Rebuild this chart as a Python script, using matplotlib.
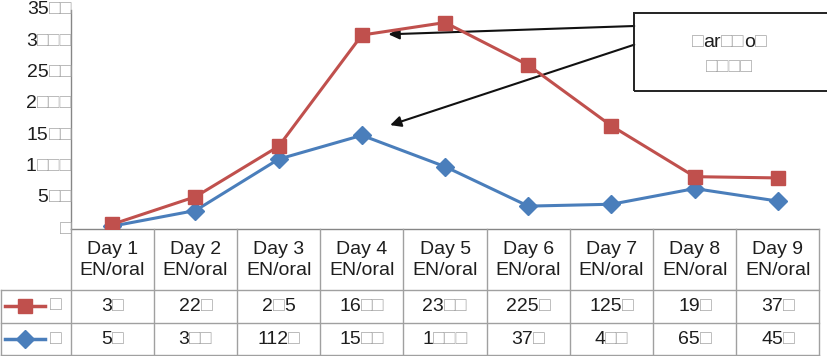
import numpy as np
import matplotlib.pyplot as plt
from matplotlib.offsetbox import TextArea, HPacker, AnnotationBbox
from matplotlib.patches import Rectangle

days = ['Day 1', 'Day 2', 'Day 3', 'Day 4', 'Day 5', 'Day 6', 'Day 7', 'Day 8', 'Day 9']
route = 'EN/oral'
red_vals = [30, 220, 205, 1600, 2300, 2250, 1250, 190, 370]
blue_vals = [50, 300, 1120, 1500, 1000, 370, 400, 650, 450]
series_names = ['□', '□']
y_ticks = [0, 500, 1000, 1500, 2000, 2500, 3000, 3500]
note_lines = ['□ar□□o□', '□□□□']

RED = '#C0504D'
BLUE = '#4A7EBB'
TXT = '#1e1e1e'
BOXC = '#a8a8a8'
GRID = '#a0a0a0'
FS = 14
W, H = 828, 356


def mixed(ax, s, xy, xycoords, align=(0.5, 0.5), dx=0):
    # text where the missing-glyph boxes are drawn lighter than the rest
    parts = []
    for ch in s:
        col = BOXC if ch == '□' else TXT
        if parts and parts[-1][1] == col:
            parts[-1][0] += ch
        else:
            parts.append([ch, col])
    kids = [TextArea(t, textprops=dict(color=c, fontsize=FS, family='Liberation Sans')) for t, c in parts]
    pk = HPacker(children=kids, align='baseline', pad=0, sep=0)
    ab = AnnotationBbox(pk, xy, xycoords=xycoords, xybox=(dx, 0), boxcoords='offset points',
                        frameon=False, box_alignment=align, pad=0, annotation_clip=False)
    ax.add_artist(ab)


fig = plt.figure(figsize=(W / 100, H / 100), dpi=100)
plt.rcParams['font.family'] = ['Liberation Sans', 'DejaVu Sans']

x0, x1 = 70.7, 819.5          # plot / table column span in px
ytop, ybase = 10, 229.3
ax = fig.add_axes([x0 / W, (H - ybase) / H, (x1 - x0) / W, (ybase - ytop) / H])
x = np.arange(len(days))
stack_red = np.array(blue_vals) + np.array(red_vals)

ax.plot(x, blue_vals, color=BLUE, lw=2.2, marker='D', ms=9, zorder=3)
ax.plot(x, stack_red, color=RED, lw=2.2, marker='s', ms=10, zorder=4)
ax.set_xlim(-0.5, len(days) - 0.5)
ax.set_ylim(0, 3500)
ax.set_xticks([])
ax.set_yticks(y_ticks)
ax.set_yticklabels([])
ax.tick_params(axis='y', length=0)
for sp in ['top', 'right']:
    ax.spines[sp].set_visible(False)
for sp in ['left', 'bottom']:
    ax.spines[sp].set_color('#868686')
    ax.spines[sp].set_linewidth(1)

for v in y_ticks:
    mixed(ax, str(v).replace('0', '□'), (0, v), ax.get_yaxis_transform(), align=(1, 0.5), dx=1)

# note box with arrows
ax.add_patch(Rectangle((0.7526, 0.6287), 0.2595, 0.3557, transform=ax.transAxes, fill=False,
                       ec='#222222', lw=1.4, clip_on=False, zorder=5))
mixed(ax, note_lines[0], (0.8796, 0.8497), 'axes fraction')
mixed(ax, note_lines[1], (0.8796, 0.7397), 'axes fraction')
ax.annotate('', xy=(3.32, 3112), xytext=(0.7526, 0.927), textcoords='axes fraction',
            arrowprops=dict(arrowstyle='-|>', color='#111111', lw=1.5, mutation_scale=16,
                            shrinkA=0, shrinkB=0), annotation_clip=False)
ax.annotate('', xy=(3.34, 1663), xytext=(0.7526, 0.8418), textcoords='axes fraction',
            arrowprops=dict(arrowstyle='-|>', color='#111111', lw=1.5, mutation_scale=16,
                            shrinkA=0, shrinkB=0), annotation_clip=False)

# data table below the plot
rows = [ybase, 290.3, 322.7, 355]
tax = fig.add_axes([x0 / W, (H - rows[-1]) / H, (x1 - x0) / W, (rows[-1] - ybase) / H])
tax.set_xlim(-0.5, len(days) - 0.5)
tax.set_ylim(rows[-1], ybase)
tax.axis('off')
colw = (x1 - x0) / len(days)


def px2x(px):
    return -0.5 + (px - x0) / colw


left = px2x(0.5)
kw = dict(color=GRID, lw=1, clip_on=False)
for yr in rows[1:]:
    tax.plot([left, len(days) - 0.5], [yr, yr], **kw)
for i in range(len(days) + 1):
    tax.plot([i - 0.5, i - 0.5], [ybase, rows[-1]], **kw)
tax.plot([left, left], [rows[1], rows[-1]], **kw)

ymid = [259.8, 306.5, 340]
for i, d in enumerate(days):
    tax.text(i, ymid[0], d + '\n' + route, ha='center', va='center', fontsize=FS,
             color=TXT, linespacing=1.35)
    mixed(tax, str(red_vals[i]).replace('0', '□'), (i, ymid[1]), 'data')
    mixed(tax, str(blue_vals[i]).replace('0', '□'), (i, ymid[2]), 'data')

for yy, col, mk, ms, name in [(305.7, RED, 's', 10, series_names[0]), (339, BLUE, 'D', 9, series_names[1])]:
    tax.plot([px2x(5), px2x(45)], [yy, yy], color=col, lw=2.5, clip_on=False)
    tax.plot([px2x(25)], [yy], color=col, marker=mk, ms=ms, clip_on=False)
    mixed(tax, name, (px2x(55.7), yy), 'data')

fig.savefig('out.png', dpi=100)
